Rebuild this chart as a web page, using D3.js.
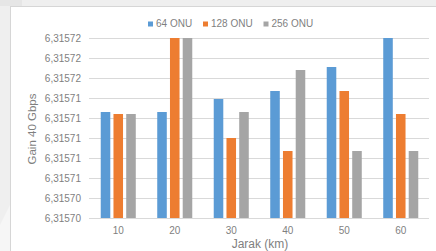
<!DOCTYPE html>
<html><head><meta charset="utf-8">
<script src="https://cdn.jsdelivr.net/npm/d3@7"></script>
<style>html,body{margin:0;padding:0;background:#eeeeee;overflow:hidden}</style>
</head><body>
<script>
const categories = ["10","20","30","40","50","60"];
const seriesNames = ["64 ONU","128 ONU","256 ONU"];
const onu64  = [6.3157126, 6.3157126, 6.3157139, 6.3157147, 6.3157171, 6.3157200];
const onu128 = [6.3157124, 6.3157200, 6.3157100, 6.3157087, 6.3157147, 6.3157124];
const onu256 = [6.3157124, 6.3157200, 6.3157126, 6.3157168, 6.3157087, 6.3157087];
const yTicks = [6.315702,6.315704,6.315706,6.315708,6.315710,6.315712,6.315714,6.315716,6.315718,6.315720];
const yTickLabels = ["6,31570","6,31570","6,31571","6,31571","6,31571","6,31571","6,31571","6,31572","6,31572","6,31572"];
const colors = ["#5B9BD5","#ED7D31","#A5A5A5"];
const values = [onu64, onu128, onu256];

const W = 436, H = 251;
const svg = d3.select("body").append("svg").attr("width", W).attr("height", H);
const font = "'Liberation Sans', Arial, sans-serif";
const txt = "#7f7f7f";

// background and card
svg.append("rect").attr("x",0).attr("y",0).attr("width",W).attr("height",H).attr("fill","#efefef");
svg.append("rect").attr("x",0).attr("y",0).attr("width",22).attr("height",6).attr("fill","#e6e6e6");
svg.append("path").attr("d","M0,251 L0,225 L10,205 L10,251 Z").attr("fill","#f6f6f6");
svg.append("rect").attr("x",10).attr("y",6).attr("width",W-10).attr("height",H-6).attr("fill","#ffffff");
svg.append("line").attr("x1",10).attr("x2",W).attr("y1",6.5).attr("y2",6.5).attr("stroke","#d6d6d6");
svg.append("line").attr("x1",10.5).attr("x2",10.5).attr("y1",6).attr("y2",H).attr("stroke","#d6d6d6");

const x0 = d3.scaleBand().domain(categories).range([90,429]).paddingInner(0.38).paddingOuter(0.19);
const x1 = d3.scaleBand().domain(seriesNames).range([0,x0.bandwidth()]).paddingInner(0.25);
const y = d3.scaleLinear().domain([yTicks[0], yTicks[yTicks.length-1]]).range([218,38]);

// gridlines
const yAxis = d3.axisLeft(y).tickValues(yTicks).tickSize(-(429-89)).tickFormat((d,i)=>yTickLabels[i]);
const gy = svg.append("g").attr("transform","translate(89,0)").call(yAxis);
gy.select(".domain").remove();
gy.selectAll(".tick line").attr("stroke","#d9d9d9").attr("shape-rendering","crispEdges");
gy.selectAll(".tick text").attr("x",-8).attr("fill",txt).style("font-family",font).style("font-size","10px");

// bars
const groups = svg.append("g").selectAll("g").data(categories).join("g")
  .attr("transform", d => `translate(${x0(d)},0)`);
groups.selectAll("rect").data((d,i)=>seriesNames.map((s,j)=>({s, v: values[j][i], c: colors[j]})))
  .join("rect")
  .attr("x", d => x1(d.s))
  .attr("width", x1.bandwidth())
  .attr("y", d => y(d.v))
  .attr("height", d => y(yTicks[0]) - y(d.v))
  .attr("fill", d => d.c);

// x axis
const xAxis = d3.axisBottom(x0).tickSize(0).tickPadding(9);
const gx = svg.append("g").attr("transform","translate(0,218)").call(xAxis);
gx.select(".domain").remove();
gx.selectAll(".tick text").attr("fill",txt).style("font-family",font).style("font-size","10px");

// axis titles
svg.append("text").attr("x",260).attr("y",248).attr("text-anchor","middle")
  .attr("fill",txt).style("font-family",font).style("font-size","12px").text("Jarak (km)");
svg.append("text").attr("transform","translate(36,129) rotate(-90)").attr("text-anchor","middle")
  .attr("fill",txt).style("font-family",font).style("font-size","11.5px").text("Gain 40 Gbps");

// legend
const legX = [148, 203, 263.5];
const leg = svg.append("g").selectAll("g").data(seriesNames).join("g")
  .attr("transform",(d,i)=>`translate(${legX[i]},21.5)`);
leg.append("rect").attr("width",5).attr("height",5).attr("fill",(d,i)=>colors[i]);
leg.append("text").attr("x",8).attr("y",5.5).attr("fill",txt)
  .style("font-family",font).style("font-size","10px").text(d=>d);
</script>
</body></html>
